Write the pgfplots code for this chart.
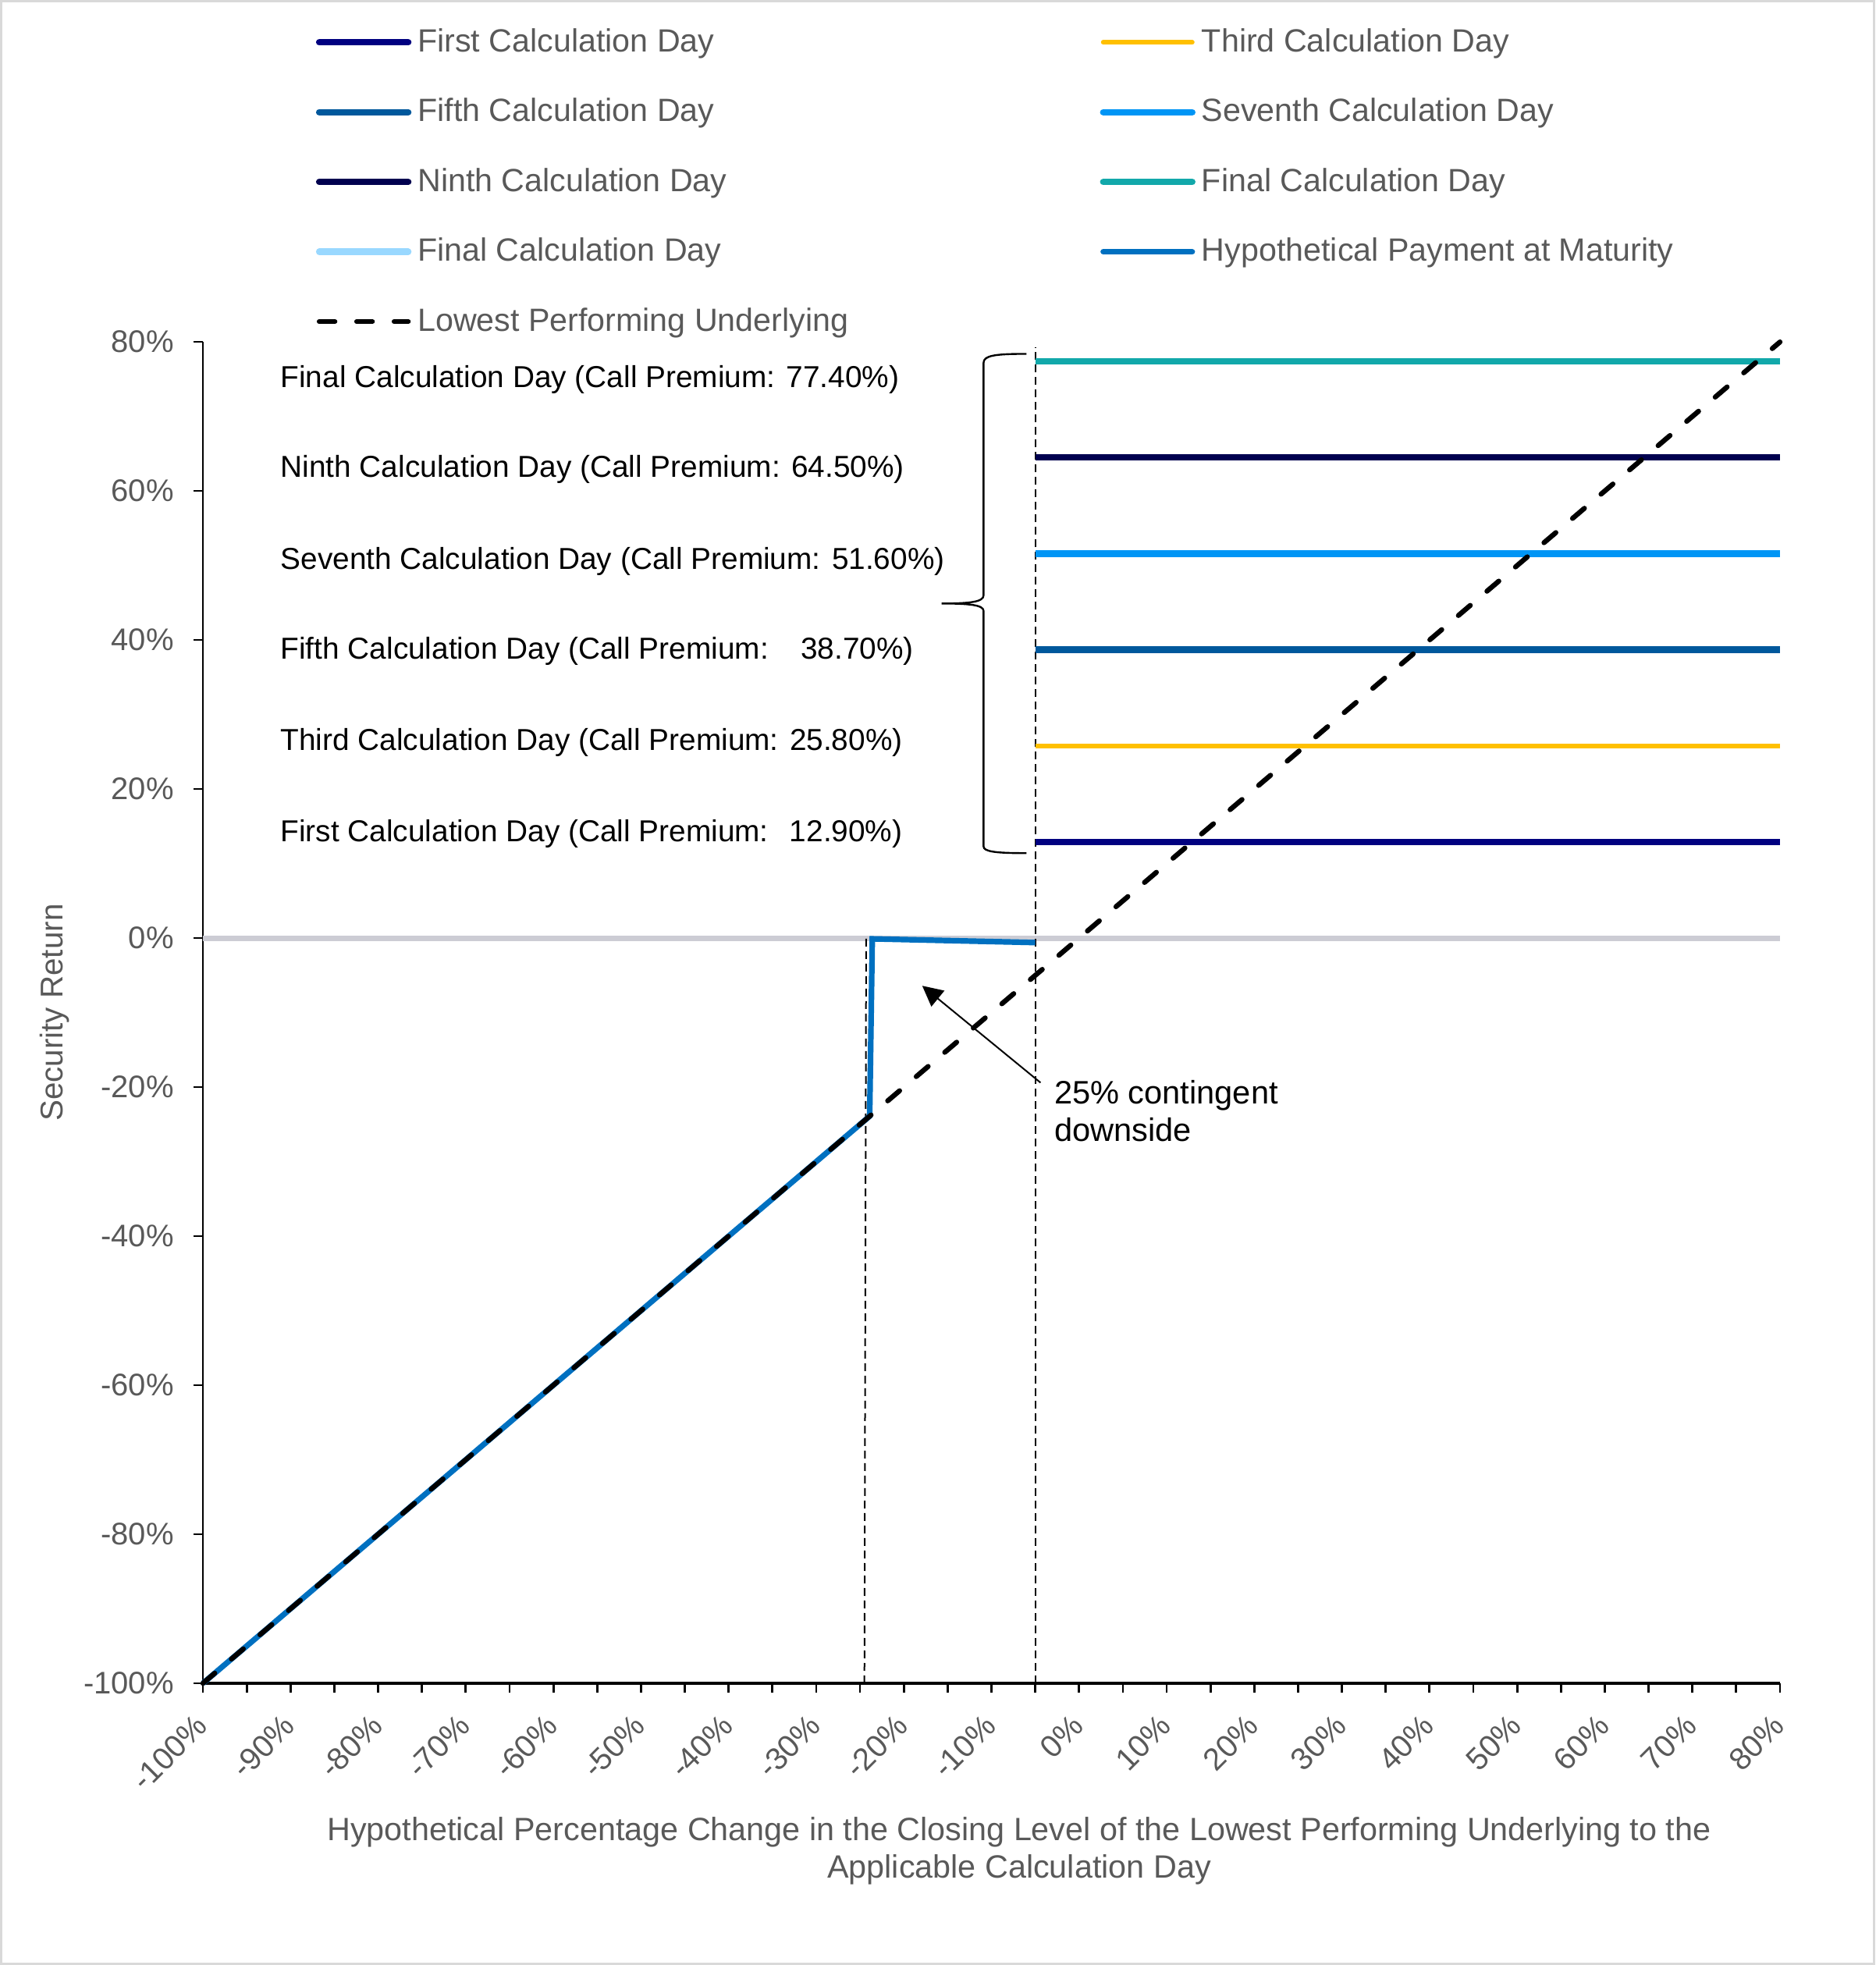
\documentclass[border=0pt]{standalone}
\usepackage{fontspec}
\setmainfont{Liberation Sans}
\usepackage{pgfplots}
\pgfplotsset{compat=1.18}
\usetikzlibrary{arrows.meta}
\definecolor{cFirst}{HTML}{000080}
\definecolor{cThird}{HTML}{FFC000}
\definecolor{cFifth}{HTML}{00589C}
\definecolor{cSeventh}{HTML}{0095F5}
\definecolor{cNinth}{HTML}{00004F}
\definecolor{cFinal}{HTML}{12A8AA}
\definecolor{cFinalB}{HTML}{99D8FF}
\definecolor{cPay}{HTML}{0070C0}
\definecolor{cGrayTxt}{HTML}{595959}
\definecolor{cZero}{HTML}{CCCCD4}
\definecolor{cBorder}{HTML}{D9D9D9}
\begin{document}
\begin{tikzpicture}
\useasboundingbox (0,0) rectangle (600.75pt,629.5pt);
\draw[cBorder, line width=0.8pt] (0.4pt,0.4pt) rectangle (600.35pt,629.1pt);
\begin{axis}[
  at={(65pt,90.25pt)}, anchor=south west,
  scale only axis, width=505.25pt, height=429.7pt,
  xmin=-100, xmax=80, ymin=-100, ymax=80,
  clip=false,
  axis lines=left, axis line style={-},
  x axis line style={line width=0.8pt},
  y axis line style={line width=0.5pt},
  xtick={-100,-90,...,80}, minor xtick={-95,-85,...,75},
  ytick={-100,-80,...,80},
  tick align=outside, major tick length=3pt, minor tick length=3pt,
  xtick style={line width=0.7pt, black},
  minor tick style={line width=0.7pt, black},
  ytick style={line width=0.5pt, black},
  /pgf/number format/assume math mode=true,
  yticklabel={\pgfmathprintnumber{\tick}\%},
  xticklabel={\pgfmathprintnumber{\tick}\%},
  ticklabel style={font=\fontsize{10}{12}\selectfont, text=cGrayTxt},
  yticklabel style={xshift=-2.8pt},
  xticklabel style={xshift=2pt, yshift=-6.5pt, rotate=45, anchor=east},
  xlabel={Hypothetical Percentage Change in the Closing Level of the Lowest Performing Underlying to the\\Applicable Calculation Day},
  xlabel style={at={(axis description cs:0.5176,-0.125)}, anchor=center, align=center, font=\fontsize{10.33}{12}\selectfont, text=cGrayTxt},
  ylabel={Security Return},
  ylabel style={at={(axis description cs:-0.094,0.5)}, anchor=center, font=\fontsize{10.1}{12}\selectfont, text=cGrayTxt},
  legend columns=2,
  legend cell align=left,
  legend image code/.code={\draw[#1, line cap=round] (0pt,0pt) -- (28.5pt,0pt);},
  legend style={at={(axis description cs:0.0713,1.2389)}, anchor=north west, draw=none, fill=none, inner sep=0pt, font=\fontsize{10.3}{12}\selectfont, text=cGrayTxt, row sep=9.4pt, column sep=0pt, /tikz/every even column/.append style={column sep=78.6pt}, nodes={inner sep=2pt}},
]
\addplot[cZero, line width=1.8pt, forget plot] coordinates {(-100,0) (80,0)};
\addplot[black, line width=0.5pt, dash pattern=on 2.5pt off 1.5pt, forget plot] coordinates {(-24.5,-100) (-24.3,0)};
\addplot[black, line width=0.5pt, dash pattern=on 2.5pt off 1.5pt, forget plot] coordinates {(-5,-100) (-5,79.3)};

\addplot[cFirst, line width=2.1pt] coordinates {(-5,12.9) (80,12.9)};
\addlegendentry{First Calculation Day}
\addplot[cThird, line width=1.5pt] coordinates {(-5,25.8) (80,25.8)};
\addlegendentry{Third Calculation Day}
\addplot[cFifth, line width=2.1pt] coordinates {(-5,38.7) (80,38.7)};
\addlegendentry{Fifth Calculation Day}
\addplot[cSeventh, line width=2.1pt] coordinates {(-5,51.6) (80,51.6)};
\addlegendentry{Seventh Calculation Day}
\addplot[cNinth, line width=2.1pt] coordinates {(-5,64.5) (80,64.5)};
\addlegendentry{Ninth Calculation Day}
\addplot[cFinal, line width=2.1pt] coordinates {(-5,77.4) (80,77.4)};
\addlegendentry{Final Calculation Day}
\addlegendimage{cFinalB, line width=2.1pt}
\addlegendentry{Final Calculation Day}
\addplot[cPay, line width=1.8pt] coordinates {(-100,-100) (-23.9,-23.9) (-23.6,-0.1) (-5,-0.6)};
\addlegendentry{Hypothetical Payment at Maturity}
\addplot[black, line width=1.6pt, line cap=round, dash pattern=on 5pt off 7pt] coordinates {(-100,-100) (80,80)};
\addlegendentry{Lowest Performing Underlying}

\begin{scope}[font=\fontsize{9.7}{11}\selectfont]
\node[anchor=west, inner sep=0pt] at (axis cs:-91.2,74.95) {Final Calculation Day (Call Premium: 77.40\%)};
\node[anchor=west, inner sep=0pt] at (axis cs:-91.2,62.85) {Ninth Calculation Day (Call Premium: 64.50\%)};
\node[anchor=west, inner sep=0pt] at (axis cs:-91.2,50.55) {Seventh Calculation Day (Call Premium: 51.60\%)};
\node[anchor=west, inner sep=0pt] at (axis cs:-91.2,38.45) {Fifth Calculation Day (Call Premium:\hspace{6.8pt} 38.70\%)};
\node[anchor=west, inner sep=0pt] at (axis cs:-91.2,26.25) {Third Calculation Day (Call Premium: 25.80\%)};
\node[anchor=west, inner sep=0pt] at (axis cs:-91.2,13.95) {First Calculation Day (Call Premium:\hspace{3.2pt} 12.90\%)};
\end{scope}
\draw[black, line width=0.6pt] (axis cs:-6,78.4) .. controls (axis cs:-9.5,78.4) and (axis cs:-10.9,78.2) .. (axis cs:-10.9,77.2) -- (axis cs:-10.9,46.0) .. controls (axis cs:-10.9,45.1) and (axis cs:-12.5,44.9) .. (axis cs:-15.7,44.9) .. controls (axis cs:-12.5,44.9) and (axis cs:-10.9,44.7) .. (axis cs:-10.9,43.9) -- (axis cs:-10.9,12.3) .. controls (axis cs:-10.9,11.6) and (axis cs:-9.5,11.4) .. (axis cs:-6,11.4);
\draw[-{Triangle[length=6.5pt,width=6.5pt]}, line width=0.5pt] (axis cs:-4.4,-19.4) -- (axis cs:-17.9,-6.4);
\node[anchor=west, align=left, inner sep=0pt, font=\fontsize{10.4}{12}\selectfont] at (axis cs:-2.9,-23.2) {25\% contingent\\downside};
\end{axis}
\end{tikzpicture}
\end{document}
